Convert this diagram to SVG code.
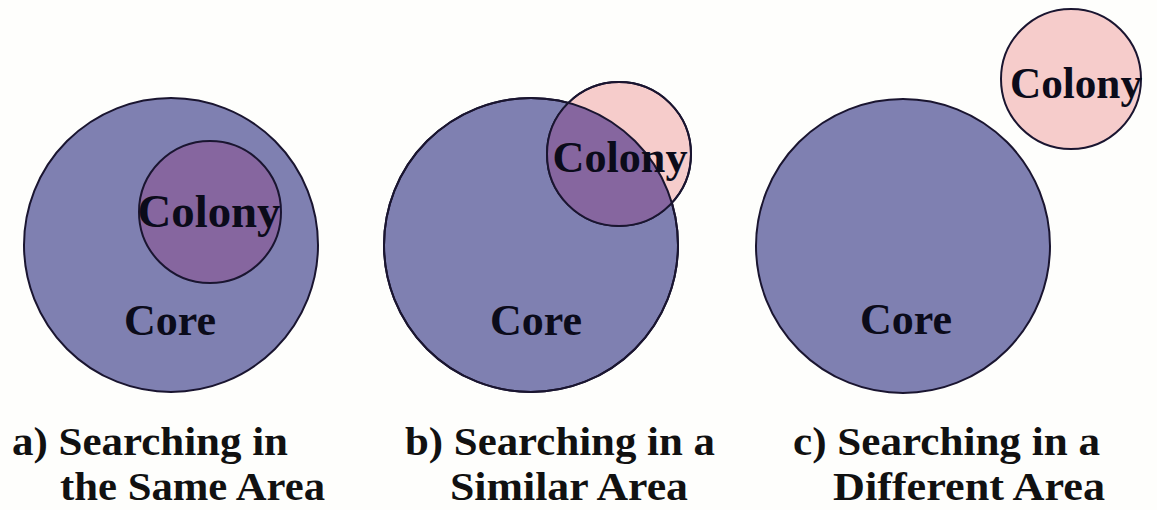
<svg xmlns="http://www.w3.org/2000/svg" width="1157" height="510" viewBox="0 0 1157 510">
<style>
.core{fill:#7f80b1;stroke:#1a1530;stroke-width:2}
.colony{fill:#f6cccb;stroke:#1a1530;stroke-width:2}
.ovl{fill:#86669f}
.edge{fill:none;stroke:#1a1530;stroke-width:2}
.lbl{font-family:"Liberation Serif","Times New Roman",serif;font-weight:bold;fill:#0b0b1a}
.cap{font-family:"Liberation Serif","Times New Roman",serif;font-weight:bold;font-size:41px;fill:#111}
</style>
<defs>
<clipPath id="clipB"><circle cx="531" cy="245" r="147"/></clipPath>
</defs>
<rect width="1157" height="510" fill="#fefefc"/>
<g id="panel-a">
<g id="core-a"><circle class="core" cx="171" cy="245" r="147"/>
<text class="lbl" x="170" y="335" font-size="44" text-anchor="middle">Core</text></g>
<g id="colony-a"><circle class="ovl" cx="210" cy="212" r="71"/><circle class="edge" cx="210" cy="212" r="71"/>
<text class="lbl" x="209" y="227" font-size="46" text-anchor="middle" textLength="143" lengthAdjust="spacingAndGlyphs">Colony</text></g>
</g>
<g id="panel-b">
<g id="core-b"><circle class="core" cx="531" cy="245" r="147"/></g>
<g id="colony-b"><circle class="colony" cx="619" cy="154" r="72"/>
<circle class="ovl" cx="619" cy="154" r="72" clip-path="url(#clipB)"/>
<circle class="edge" cx="531" cy="245" r="147"/>
<circle class="edge" cx="619" cy="154" r="72"/>
<text class="lbl" x="620" y="172" font-size="44" text-anchor="middle" textLength="135" lengthAdjust="spacingAndGlyphs">Colony</text></g>
<text class="lbl" x="536" y="335" font-size="44" text-anchor="middle">Core</text>
</g>
<g id="panel-c">
<g id="core-c"><circle class="core" cx="903" cy="246" r="147"/>
<text class="lbl" x="906" y="334" font-size="44" text-anchor="middle">Core</text></g>
<g id="colony-c"><circle class="colony" cx="1071" cy="79" r="70"/>
<text class="lbl" x="1076" y="98" font-size="44" text-anchor="middle" textLength="132" lengthAdjust="spacingAndGlyphs">Colony</text></g>
</g>
<g id="captions">
<text class="cap" x="12" y="455" textLength="276" lengthAdjust="spacingAndGlyphs">a) Searching in</text>
<text class="cap" x="60" y="500" textLength="265" lengthAdjust="spacingAndGlyphs">the Same Area</text>
<text class="cap" x="405" y="455" textLength="310" lengthAdjust="spacingAndGlyphs">b) Searching in a</text>
<text class="cap" x="450" y="500" textLength="238" lengthAdjust="spacingAndGlyphs">Similar Area</text>
<text class="cap" x="793" y="455" textLength="307" lengthAdjust="spacingAndGlyphs">c) Searching in a</text>
<text class="cap" x="833" y="500" textLength="272" lengthAdjust="spacingAndGlyphs">Different Area</text>
</g>
</svg>
